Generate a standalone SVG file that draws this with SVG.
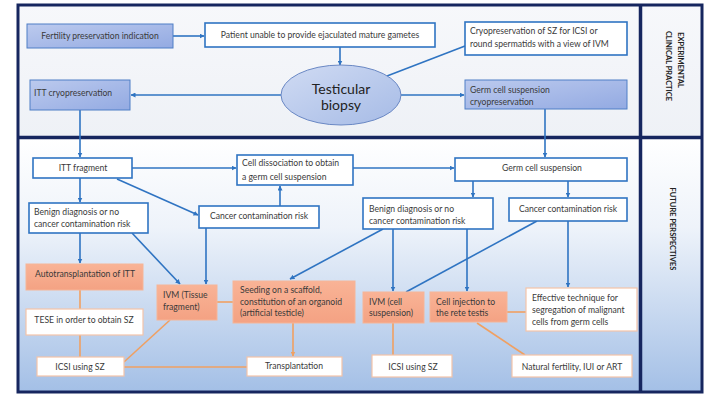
<svg xmlns="http://www.w3.org/2000/svg" width="706" height="396" viewBox="0 0 706 396">
<defs>
<linearGradient id="bgBottom" x1="0" y1="0" x2="0" y2="1">
<stop offset="0" stop-color="#ffffff"/>
<stop offset="0.35" stop-color="#eef3fa"/>
<stop offset="1" stop-color="#a3bfe6"/>
</linearGradient>
<linearGradient id="bgTop" x1="0" y1="0" x2="0" y2="1">
<stop offset="0" stop-color="#f7f8fb"/>
<stop offset="1" stop-color="#eef1f6"/>
</linearGradient>
<linearGradient id="blueFill" x1="0" y1="0" x2="1" y2="1">
<stop offset="0" stop-color="#bccaee"/>
<stop offset="1" stop-color="#93aae2"/>
</linearGradient>
<linearGradient id="ellFill" x1="0" y1="0" x2="1" y2="1">
<stop offset="0" stop-color="#d0dbf3"/>
<stop offset="1" stop-color="#a6bbe6"/>
</linearGradient>
<linearGradient id="orFill" x1="0" y1="0" x2="0" y2="1">
<stop offset="0" stop-color="#f9b396"/>
<stop offset="1" stop-color="#f4a283"/>
</linearGradient>
<marker id="ab" viewBox="0 0 10 10" refX="9" refY="5" markerWidth="5" markerHeight="5" orient="auto" markerUnits="userSpaceOnUse">
<path d="M0,0 L10,5 L0,10 z" fill="#2f74c2"/>
</marker>
<marker id="ao" viewBox="0 0 10 10" refX="9" refY="5" markerWidth="5" markerHeight="5" orient="auto" markerUnits="userSpaceOnUse">
<path d="M0,0 L10,5 L0,10 z" fill="#f0a062"/>
</marker>
<style>
text { font-family: Lato, "Liberation Sans", sans-serif; font-size: 8.6px; fill: #3a3a3a; dominant-baseline: central; }
.c { text-anchor: middle; }
.bw { fill: #ffffff; stroke: #2f74c2; stroke-width: 1.6; }
.bb { fill: url(#blueFill); stroke: #4f7fc6; stroke-width: 1; }
.bo { fill: url(#orFill); stroke: #f6b597; stroke-width: 1; }
.bt { fill: #ffffff; stroke: #f3c4a8; stroke-width: 1.2; }
.lb { stroke: #2f74c2; stroke-width: 1.6; fill: none; }
.lba { stroke: #2f74c2; stroke-width: 1.6; fill: none; marker-end: url(#ab); }
.lo { stroke: #f0a062; stroke-width: 1.6; fill: none; }
.loa { stroke: #f0a062; stroke-width: 1.6; fill: none; marker-end: url(#ao); }
.frame { stroke: #16265f; fill: none; }
.side { font-size: 7.5px; font-weight: bold; fill: #222; }
</style>
</defs>

<!-- backgrounds -->
<rect x="17" y="4" width="624" height="134" fill="url(#bgTop)"/>
<rect x="17" y="138" width="624" height="255" fill="url(#bgBottom)"/>
<rect x="641" y="4" width="62" height="134" fill="url(#bgTop)"/>
<rect x="641" y="138" width="62" height="255" fill="url(#bgBottom)"/>

<!-- frame -->
<g id="frame">
<rect class="frame" x="18" y="5" width="684" height="387" stroke-width="3"/>
<line class="frame" x1="640.5" y1="4" x2="640.5" y2="393" stroke-width="3.5"/>
<line class="frame" x1="17" y1="137.5" x2="703" y2="137.5" stroke-width="3.5"/>
</g>

<!-- connectors -->
<g id="connectors">
<line class="lba" x1="173" y1="36" x2="204" y2="36"/>
<line class="lba" x1="340" y1="47" x2="340" y2="65"/>
<line class="lba" x1="281" y1="95" x2="131" y2="95"/>
<line class="lb" x1="387" y1="76" x2="465" y2="46"/>
<line class="lba" x1="401" y1="95" x2="464" y2="95"/>
<line class="lba" x1="80" y1="110" x2="80" y2="157"/>
<line class="lba" x1="545" y1="109" x2="545" y2="157"/>
<line class="lba" x1="132" y1="168" x2="236" y2="168"/>
<line class="lba" x1="353" y1="168" x2="454" y2="168"/>
<line class="lba" x1="117" y1="179" x2="198" y2="215"/>
<line class="lba" x1="80" y1="178" x2="80" y2="202"/>
<line class="lba" x1="280" y1="206" x2="280" y2="186"/>
<line class="lba" x1="473" y1="181" x2="473" y2="197"/>
<line class="lba" x1="568" y1="181" x2="568" y2="197"/>
<line class="lba" x1="80" y1="233" x2="80" y2="263"/>
<line class="lba" x1="132" y1="233" x2="180" y2="284"/>
<line class="lba" x1="206" y1="228" x2="206" y2="284"/>
<line class="lba" x1="383" y1="229" x2="290" y2="279"/>
<line class="lba" x1="393" y1="229" x2="393" y2="291"/>
<line class="lba" x1="467" y1="229" x2="467" y2="291"/>
<line class="lb" x1="537" y1="221" x2="406" y2="292"/>
<line class="lba" x1="568" y1="221" x2="568" y2="287"/>
<line class="lo" x1="80" y1="290" x2="80" y2="309"/>
<line class="lo" x1="80" y1="335" x2="80" y2="357"/>
<line class="lo" x1="170" y1="320" x2="124" y2="362"/>
<line class="lo" x1="233" y1="302" x2="217" y2="302"/>
<line class="loa" x1="293" y1="323" x2="293" y2="356"/>
<line class="lo" x1="124" y1="367" x2="247" y2="367" stroke-width="2.2"/>
<line class="lo" x1="393" y1="323" x2="393" y2="355"/>
<line class="lo" x1="507" y1="312" x2="526" y2="312"/>
<line class="lo" x1="477" y1="323" x2="525" y2="355"/>
</g>

<!-- nodes -->
<g id="n-fertility"><rect class="bb" x="27" y="24" width="146" height="24"/><text class="c" x="100" y="36">Fertility preservation indication</text></g>
<g id="n-patient"><rect class="bw" x="205" y="23" width="230" height="24"/><text class="c" x="320" y="35">Patient unable to provide ejaculated mature gametes</text></g>
<g id="n-biopsy"><ellipse cx="341" cy="95" rx="60" ry="30" fill="url(#ellFill)" stroke="#6a88c4" stroke-width="1"/><text class="c" x="341" y="88" style="font-size:14px;fill:#222">Testicular</text><text class="c" x="341" y="104" style="font-size:14px;fill:#222">biopsy</text></g>
<g id="n-cryosz"><rect class="bw" x="465" y="22" width="162" height="33"/><text x="470" y="31">Cryopreservation of SZ for ICSI or</text><text x="470" y="44">round spermatids with a view of IVM</text></g>
<g id="n-ittcryo"><rect class="bb" x="30" y="80" width="100" height="30"/><text x="34" y="93">ITT cryopreservation</text></g>
<g id="n-gcscryo"><rect class="bb" x="465" y="80" width="162" height="29"/><text x="470" y="90">Germ cell suspension</text><text x="470" y="102">cryopreservation</text></g>

<g id="n-ittfrag"><rect class="bw" x="33" y="158" width="99" height="20"/><text class="c" x="83" y="168">ITT fragment</text></g>
<g id="n-celldiss"><rect class="bw" x="237" y="155" width="116" height="30"/><text x="242" y="163">Cell dissociation to obtain</text><text x="242" y="177">a germ cell suspension</text></g>
<g id="n-gcs"><rect class="bw" x="455" y="158" width="172" height="23"/><text class="c" x="542" y="168">Germ cell suspension</text></g>
<g id="n-benignL"><rect class="bw" x="29" y="203" width="119" height="30"/><text x="34" y="212">Benign diagnosis or no</text><text x="34" y="224">cancer contamination risk</text></g>
<g id="n-cancerL"><rect class="bw" x="199" y="206" width="120" height="22"/><text class="c" x="259" y="216">Cancer contamination risk</text></g>
<g id="n-benignR"><rect class="bw" x="363" y="198" width="130" height="31"/><text x="369" y="209">Benign diagnosis or no</text><text x="369" y="221">cancer contamination risk</text></g>
<g id="n-cancerR"><rect class="bw" x="509" y="198" width="118" height="23"/><text class="c" x="568" y="209">Cancer contamination risk</text></g>

<g id="n-auto"><rect class="bo" x="26" y="264" width="117" height="26"/><text class="c" x="85" y="274">Autotransplantation of ITT</text></g>
<g id="n-tese"><rect class="bt" x="26" y="309" width="117" height="26"/><text class="c" x="84" y="320">TESE in order to obtain SZ</text></g>
<g id="n-icsiL"><rect class="bt" x="37" y="357" width="87" height="19"/><text class="c" x="80" y="367">ICSI using SZ</text></g>
<g id="n-ivmtis"><rect class="bo" x="157" y="285" width="60" height="35"/><text x="163" y="295">IVM (Tissue</text><text x="163" y="307">fragment)</text></g>
<g id="n-seed"><rect class="bo" x="233" y="281" width="122" height="42"/><text x="240" y="290">Seeding on a scaffold,</text><text x="240" y="302">constitution of an organoid</text><text x="240" y="313">(artificial testicle)</text></g>
<g id="n-transp"><rect class="bt" x="247" y="357" width="95" height="19"/><text class="c" x="294" y="366">Transplantation</text></g>
<g id="n-ivmcell"><rect class="bo" x="363" y="292" width="61" height="31"/><text x="369" y="302">IVM (cell</text><text x="369" y="313">suspension)</text></g>
<g id="n-inject"><rect class="bo" x="430" y="292" width="77" height="30"/><text x="436" y="302">Cell injection to</text><text x="436" y="313">the rete testis</text></g>
<g id="n-effective"><rect class="bt" x="526" y="288" width="111" height="43"/><text x="532" y="298">Effective technique for</text><text x="532" y="310">segregation of malignant</text><text x="532" y="322">cells from germ cells</text></g>
<g id="n-icsiR"><rect class="bt" x="372" y="355" width="80" height="22"/><text class="c" x="413" y="367">ICSI using SZ</text></g>
<g id="n-natural"><rect class="bt" x="512" y="355" width="120" height="22"/><text class="c" x="572" y="367">Natural fertility, IUI or ART</text></g>

<!-- side labels -->
<g id="label-exp"><text class="side c" transform="translate(680,60) rotate(90)">EXPERIMENTAL</text><text class="side c" transform="translate(668,66) rotate(90)">CLINICAL PRACTICE</text></g>
<g id="label-fut"><text class="side c" transform="translate(672,229) rotate(90)">FUTURE PERSPECTIVES</text></g>
</svg>
